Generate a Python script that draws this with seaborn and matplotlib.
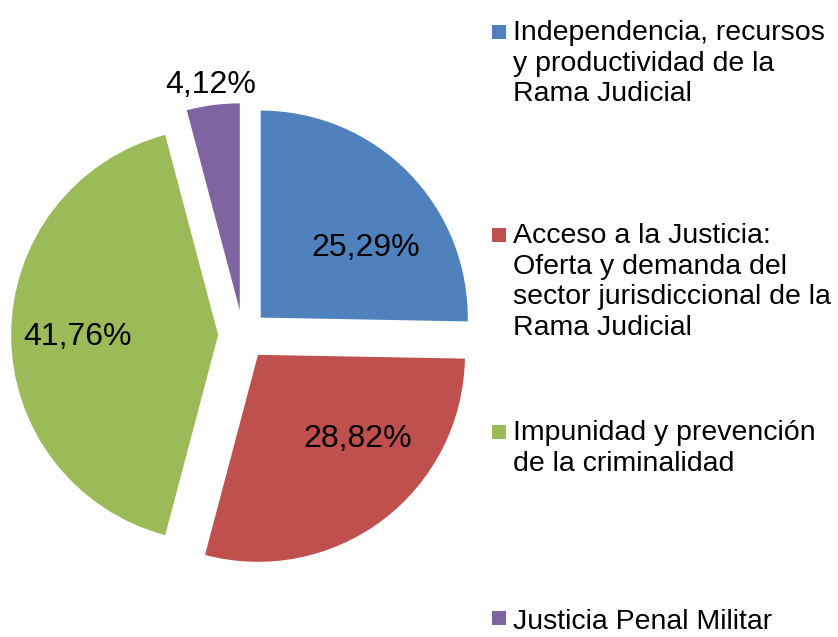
import numpy as np
import seaborn as sns
import matplotlib.pyplot as plt
from matplotlib.patches import Rectangle
from matplotlib.legend_handler import HandlerPatch

# datos del grafico
categorias = [
    "Independencia, recursos\ny productividad de la\nRama Judicial",
    "Acceso a la Justicia:\nOferta y demanda del\nsector jurisdiccional de la\nRama Judicial",
    "Impunidad y prevención\nde la criminalidad",
    "Justicia Penal Militar",
]
porcentajes = [25.29, 28.82, 41.76, 4.12]
colores = ["#4F81BD", "#C0504D", "#9BBB59", "#8064A2"]

sns.set_theme(style="white")
plt.rcParams["font.family"] = ["Liberation Sans", "DejaVu Sans"]

W, H = 838, 637
fig = plt.figure(figsize=(W / 100, H / 100), dpi=100)

# eje del pastel: centro (243, 335) px, radio 207 px
lim = 1.17
r_px = 207
cx, cy = 243, 335
lado = 2 * lim * r_px
ax = fig.add_axes([(cx - lado / 2) / W, (H - cy - lado / 2) / H, lado / W, lado / H])

wedges, textos, pct = ax.pie(
    porcentajes,
    colors=colores,
    startangle=90,
    counterclock=False,
    explode=[0.12] * len(porcentajes),
    radius=1,
    wedgeprops=dict(linewidth=0),
    autopct=lambda p: f"{p:.2f}%".replace(".", ","),
    textprops=dict(fontsize=23, color="black"),
)
ax.set_xlim(-lim, lim)
ax.set_ylim(-lim, lim)
ax.set_aspect("equal")

# posicion de cada etiqueta: distancia desde el vertice y giro respecto a la bisectriz
dist_etiqueta = [0.61, 0.63, 0.68, 1.1]
giro_etiqueta = [-11, 13, 1, 0]
for w, t, d, g in zip(wedges, pct, dist_etiqueta, giro_etiqueta):
    ang = np.deg2rad((w.theta1 + w.theta2) / 2 + g)
    x0, y0 = w.center
    t.set_position((x0 + d * w.r * np.cos(ang), y0 + d * w.r * np.sin(ang)))


class CuadroPrimeraLinea(HandlerPatch):
    # cuadro de color alineado con la primera linea del texto
    def __init__(self, nlineas, **kw):
        super().__init__(**kw)
        self.nlineas = nlineas

    def create_artists(self, legend, orig_handle, xdescent, ydescent,
                       width, height, fontsize, trans):
        lado_c = 0.49 * fontsize
        salto = (self.nlineas - 1) * 22.3 / 2
        y = -ydescent + height / 2 - lado_c / 2 + salto + 0.02 * fontsize
        p = Rectangle((-xdescent, y), lado_c, lado_c,
                      facecolor=orig_handle.get_facecolor(), edgecolor="none",
                      transform=trans)
        return [p]


# leyenda: una entrada por bloque, como en la imagen
tops = [20, 223, 420, 609]
for w, lab, top in zip(wedges, categorias, tops):
    n = lab.count("\n") + 1
    leg = fig.legend(
        [w], [lab],
        loc="upper left",
        bbox_to_anchor=(492 / W, 1 - top / H),
        frameon=False,
        fontsize=20.5,
        borderpad=0,
        borderaxespad=0,
        handlelength=0.49,
        handletextpad=0.25,
        handler_map={w: CuadroPrimeraLinea(n)},
    )
    for t in leg.get_texts():
        t.set_linespacing(1.23)
        t.set_color("black")

fig.savefig("out.png", dpi=100)
